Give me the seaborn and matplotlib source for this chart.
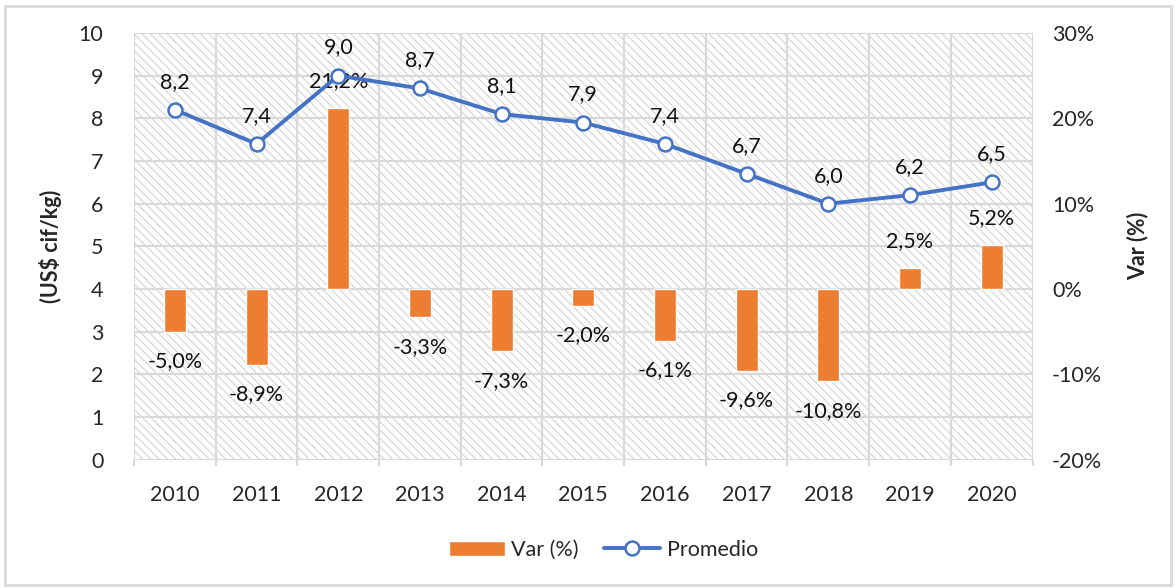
import numpy as np
import pandas as pd
import matplotlib
matplotlib.use("Agg")
import matplotlib.pyplot as plt
from matplotlib.patches import Rectangle
from matplotlib.ticker import MultipleLocator, FuncFormatter
import seaborn as sns

years = ["2010", "2011", "2012", "2013", "2014", "2015", "2016", "2017", "2018", "2019", "2020"]
promedio = [8.2, 7.4, 9.0, 8.7, 8.1, 7.9, 7.4, 6.7, 6.0, 6.2, 6.5]
var_pct = [-5.0, -8.9, 21.2, -3.3, -7.3, -2.0, -6.1, -9.6, -10.8, 2.5, 5.2]

BLUE = "#4472C4"
ORANGE = "#ED7D31"
GRID = "#D9D9D9"
FS = 15.5

sns.set_theme(style="white")
plt.rcParams["font.family"] = ["Lato", "DejaVu Sans"]
plt.rcParams["hatch.linewidth"] = 0.7
plt.rcParams["hatch.color"] = "#CFCFCF"

df = pd.DataFrame({"year": years, "promedio": promedio, "var": var_pct})
df["pos"] = np.arange(len(years))

fig = plt.figure(figsize=(11.76, 5.88), dpi=100)
ax = fig.add_axes([0.114, 0.218, 0.764, 0.726])
ax2 = ax.twinx()

# bars live on the back axes, the line on the front one
ax.set_zorder(2)
ax.patch.set_visible(False)

# hatched plot area
ax2.add_patch(Rectangle((0, 0), 1, 1, transform=ax2.transAxes, facecolor="white",
                        edgecolor="#CFCFCF", hatch="\\\\\\\\", lw=0, zorder=0))

sns.barplot(data=df, x="year", y="var", color=ORANGE, width=0.27, saturation=1,
            ax=ax2, zorder=3, label="Var (%)", legend=False)
if ax2.get_legend() is not None:
    ax2.get_legend().remove()
ax2.set_ylim(-20, 30)
ax2.yaxis.set_major_locator(MultipleLocator(10))
ax2.yaxis.set_minor_locator(MultipleLocator(5))
ax2.yaxis.set_major_formatter(FuncFormatter(lambda v, p: f"{v:.0f}%"))
ax2.tick_params(axis="y", which="both", length=0, labelsize=FS, pad=14)
ax2.set_ylabel("Var (%)", fontsize=FS, fontweight="bold", labelpad=18)
for s in ax2.spines.values():
    s.set_visible(False)

for i, v in enumerate(var_pct):
    off = 12 if v >= 0 else -14
    ax2.annotate(f"{v:.1f}%".replace(".", ","), (i, v), xytext=(0, off),
                 textcoords="offset points", ha="center",
                 va="bottom" if v >= 0 else "top", fontsize=FS, color="#111111")

sns.lineplot(data=df, x="pos", y="promedio", ax=ax, color=BLUE, lw=2.8, marker="o",
             markersize=10, markerfacecolor="white", markeredgecolor=BLUE,
             markeredgewidth=1.8, label="Promedio", legend=False)
ax.set_ylim(0, 10)
ax.yaxis.set_major_locator(MultipleLocator(1))
ax.set_xlim(-0.5, len(years) - 0.5)
ax.set_xticks(df["pos"])
ax.set_xticklabels(years)
ax.tick_params(axis="both", length=0, labelsize=FS)
ax.tick_params(axis="y", pad=22)
ax.tick_params(axis="x", pad=18)
ax2.tick_params(axis="x", labelbottom=False)
ax.set_xlabel("")
ax.set_ylabel("(US$ cif/kg)", fontsize=FS, fontweight="bold", labelpad=12)
for s in ax.spines.values():
    s.set_visible(False)

for i, v in enumerate(promedio):
    ax.annotate(f"{v:.1f}".replace(".", ","), (i, v), xytext=(0, 13),
                textcoords="offset points", ha="center", va="bottom",
                fontsize=FS, color="#111111")

# horizontal gridlines at every unit of the left scale
ax2.grid(True, which="both", axis="y", color=GRID, lw=1.6)
ax2.set_axisbelow(True)

# vertical gridlines at category boundaries, with short ticks below the axis
bounds = np.arange(len(years) + 1) - 0.5
xform = ax2.get_xaxis_transform()
ax2.vlines(bounds, 0, 1, transform=xform, color=GRID, lw=1.6, zorder=0.6)
ax2.vlines(bounds, -0.014, 0, transform=xform, color=GRID, lw=1.6, clip_on=False)
ax2.set_xlim(-0.5, len(years) - 0.5)

h1 = [Rectangle((0, 0), 1, 1, facecolor=ORANGE)]
h2, l2 = ax.get_legend_handles_labels()
fig.legend(h1 + h2, ["Var (%)"] + l2, loc="center", bbox_to_anchor=(0.513, 0.065), ncol=2,
           frameon=False, fontsize=FS, handlelength=2.6, columnspacing=1.2,
           handletextpad=0.3)

# outer chart frame
fig.add_artist(Rectangle((0.004, 0.005), 0.992, 0.985, transform=fig.transFigure,
                         fill=False, edgecolor="#D9D9D9", lw=2))

fig.savefig("out.png", dpi=100)
